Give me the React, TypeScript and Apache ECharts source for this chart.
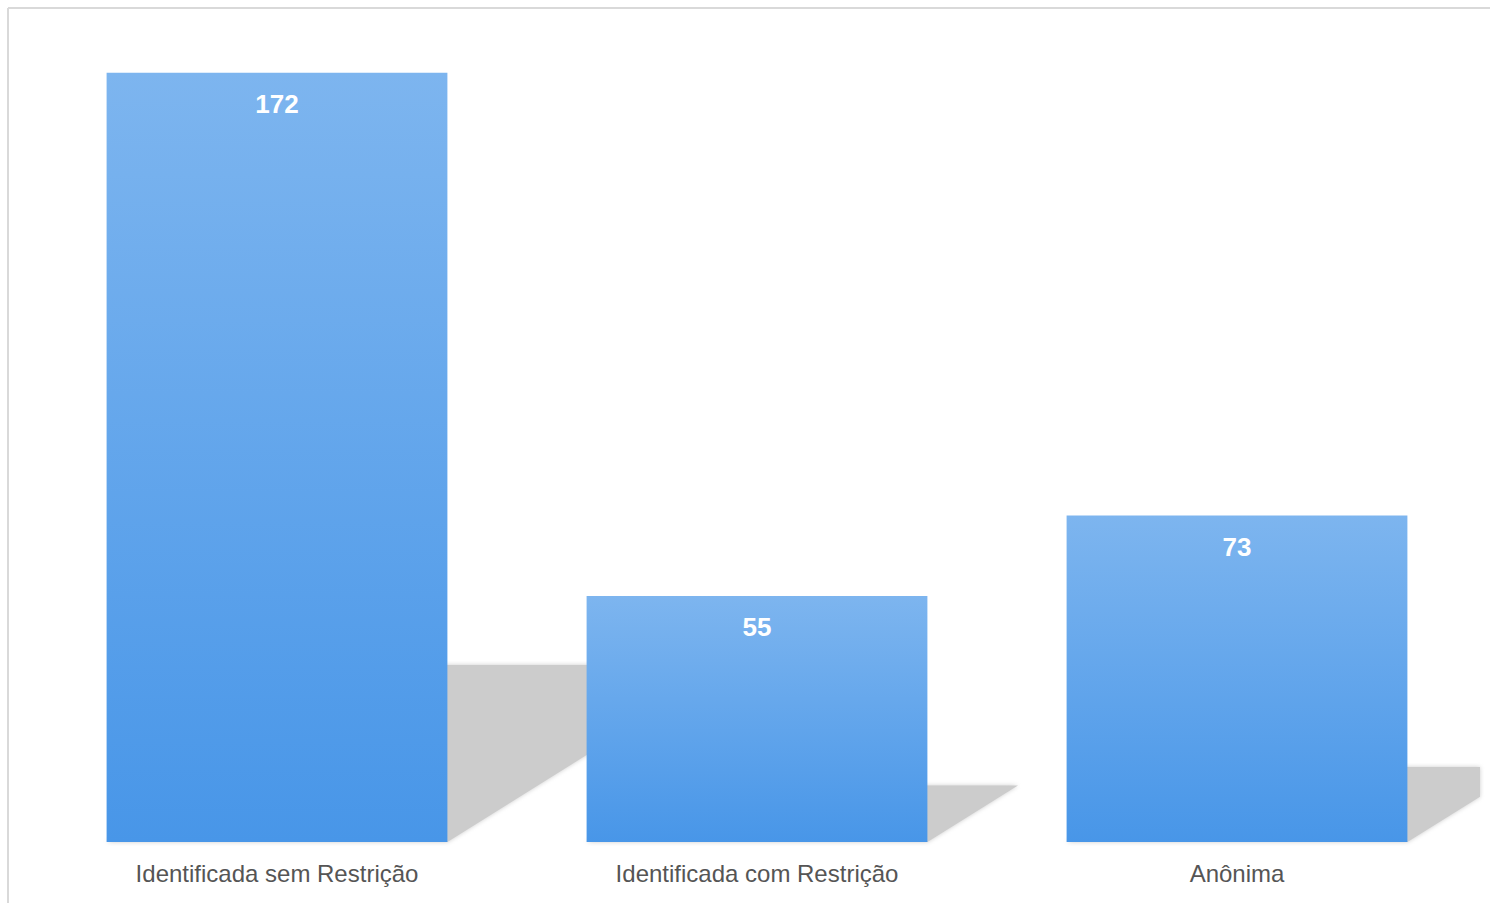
import React, { useEffect, useRef } from "react";
import * as echarts from "echarts";

const categories = ["Identificada sem Restrição", "Identificada com Restrição", "Anônima"];
const values = [172, 55, 73];

export default function App() {
  const ref = useRef<HTMLDivElement>(null);
  useEffect(() => {
    if (!ref.current) return;
    const chart = echarts.init(ref.current, undefined, { renderer: "svg" });
    const barRatio = 0.71;
    chart.setOption({
      animation: false,
      backgroundColor: "#ffffff",
      graphic: [
        { type: "line", shape: { x1: 8, y1: 8, x2: 1490, y2: 8 }, style: { stroke: "#d9d9d9", lineWidth: 2 }, z: 100 },
        { type: "line", shape: { x1: 8, y1: 8, x2: 8, y2: 903 }, style: { stroke: "#d9d9d9", lineWidth: 2 }, z: 100 },
      ],
      grid: { left: 37, right: 13, top: 37, bottom: 61, containLabel: false },
      xAxis: {
        type: "category",
        data: categories,
        axisLine: { show: false },
        axisTick: { show: false },
        axisLabel: {
          color: "#555555",
          fontSize: 24,
          fontFamily: "Liberation Sans, Arial, sans-serif",
          margin: 19,
        },
      },
      yAxis: {
        type: "value",
        min: 0,
        max: 180,
        show: false,
        splitLine: { show: false },
      },
      series: [
        {
          type: "custom",
          z: 1,
          clip: false,
          data: values.map((v, i) => [i, v]),
          renderItem: (params: any, api: any) => {
            const idx = api.value(0);
            const v = api.value(1);
            const top = api.coord([idx, v]);
            const base = api.coord([idx, 0]);
            const band = api.size([1, 0])[0];
            const bw = band * barRatio;
            const x0 = base[0] - bw / 2;
            const x1 = base[0] + bw / 2;
            const h = base[1] - top[1];
            const s = h * 0.23;
            const dx = s * 1.6;
            const limit = params.coordSys.x + params.coordSys.width + 3;
            const pts: number[][] = [
              [x0, base[1]],
              [x1, base[1]],
            ];
            if (x1 + dx <= limit) {
              pts.push([x1 + dx, base[1] - s]);
            } else {
              const t = (limit - x1) / dx;
              pts.push([limit, base[1] - s * t]);
              pts.push([limit, base[1] - s]);
            }
            pts.push([x0 + dx, base[1] - s]);
            return {
              type: "polygon",
              shape: { points: pts },
              style: { fill: "#cccccc", shadowBlur: 4, shadowColor: "#cccccc" },
            };
          },
        },
        {
          type: "bar",
          z: 2,
          data: values,
          barWidth: "71%",
          itemStyle: {
            color: new echarts.graphic.LinearGradient(0, 0, 0, 1, [
              { offset: 0, color: "#7db5ef" },
              { offset: 1, color: "#4896e8" },
            ]),
          },
          label: {
            show: true,
            position: "insideTop",
            distance: 18,
            color: "#ffffff",
            fontSize: 26,
            fontWeight: "bold",
            fontFamily: "Liberation Sans, Arial, sans-serif",
          },
        },
      ],
    });
    return () => chart.dispose();
  }, []);
  return (
    <div
      ref={ref}
      style={{ position: "absolute", left: 0, top: 0, width: 1490, height: 903 }}
    />
  );
}
